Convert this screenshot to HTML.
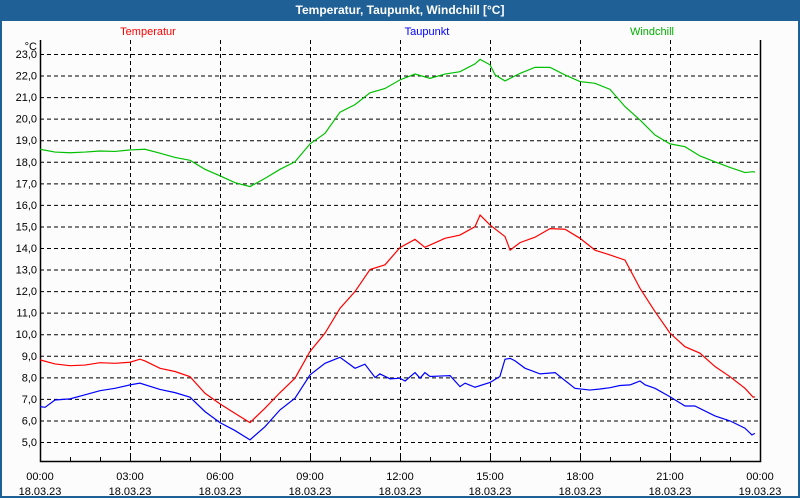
<!DOCTYPE html>
<html><head><meta charset="utf-8"><style>
body{margin:0;width:800px;height:500px;overflow:hidden;background:#fff;font-family:"Liberation Sans",sans-serif}
#frame{position:absolute;left:0;top:0;width:796px;height:496px;border:2px solid #1f6096;border-top:none;background:#fbfcfb}
#title{position:absolute;left:0;top:0;width:800px;height:21px;background:#1f6096;color:#fff;font-weight:bold;font-size:12px;line-height:21px;text-align:center}
svg{position:absolute;left:0;top:0}
</style></head><body>
<div id="frame"></div>
<div id="title">Temperatur, Taupunkt, Windchill [°C]</div>
<svg id="chart" width="800" height="500"></svg>
<script>
const yTicks=[5,6,7,8,9,10,11,12,13,14,15,16,17,18,19,20,21,22,23];
const xTickHours=[0,3,6,9,12,15,18,21,24];
const xTickTimes=["00:00","03:00","06:00","09:00","12:00","15:00","18:00","21:00","00:00"];
const xTickDates=["18.03.23","18.03.23","18.03.23","18.03.23","18.03.23","18.03.23","18.03.23","18.03.23","19.03.23"];
const tempTimes=[0,0.5,1,1.5,2,2.5,3,3.33,3.5,4,4.5,5,5.5,6,6.5,7,7.5,8,8.5,9,9.5,10,10.5,11,11.5,12,12.5,12.83,13.5,14,14.5,14.67,15,15.5,15.67,16,16.5,17,17.5,18,18.5,19,19.5,20,20.5,21,21.5,22,22.5,23,23.5,23.77,23.83];
const tempVals=[8.81,8.62,8.54,8.57,8.68,8.65,8.7,8.84,8.76,8.42,8.27,8.03,7.26,6.77,6.33,5.9,6.57,7.29,7.96,9.2,10.05,11.2,11.98,13.0,13.22,14.02,14.4,14.03,14.45,14.6,14.99,15.53,15.07,14.53,13.9,14.25,14.5,14.9,14.87,14.45,13.9,13.68,13.44,12.13,11.05,10.05,9.42,9.12,8.5,8.03,7.49,7.08,7.1];
const dewTimes=[0,0.17,0.5,1,1.5,2,2.5,3,3.33,4,4.5,5,5.5,6,6.5,7,7.5,8,8.5,9,9.5,10,10.5,10.83,11.17,11.33,11.67,12,12.17,12.5,12.67,12.83,13,13.5,13.67,14,14.17,14.5,15,15.33,15.5,15.67,15.83,16.17,16.33,16.67,17.17,17.33,17.83,18.33,18.67,19,19.33,19.67,20,20.17,20.5,21,21.5,21.83,22.5,23,23.5,23.73,23.83];
const dewVals=[6.64,6.61,6.95,7.0,7.19,7.38,7.49,7.65,7.73,7.44,7.29,7.08,6.41,5.9,5.53,5.1,5.71,6.49,7.03,8.11,8.65,8.93,8.42,8.61,7.99,8.16,7.93,7.96,7.83,8.22,7.96,8.22,8.04,8.07,8.08,7.57,7.73,7.54,7.76,8.04,8.84,8.88,8.77,8.42,8.34,8.16,8.22,8.04,7.49,7.41,7.46,7.52,7.62,7.65,7.83,7.65,7.49,7.1,6.67,6.67,6.21,5.98,5.64,5.33,5.4];
const windTimes=[0,0.5,1,1.5,2,2.5,3,3.5,4,4.5,5,5.5,6,6.5,7,7.5,8,8.5,9,9.5,10,10.5,11,11.5,12,12.5,13,13.5,14,14.5,14.67,15,15.17,15.5,15.67,16,16.5,17,17.5,18,18.5,19,19.5,20,20.5,21,21.5,22,22.5,23,23.5,23.77,23.83];
const windVals=[18.58,18.45,18.42,18.45,18.5,18.48,18.55,18.58,18.4,18.2,18.07,17.65,17.35,17.03,16.85,17.23,17.65,18.0,18.83,19.32,20.3,20.65,21.2,21.4,21.8,22.07,21.87,22.07,22.18,22.54,22.75,22.5,22.03,21.75,21.87,22.1,22.38,22.38,22.03,21.72,21.64,21.36,20.56,19.94,19.24,18.83,18.7,18.27,18.0,17.74,17.5,17.54,17.52];
const L=40,R=760,T=40,B=461;
const xs=h=>L+h*(R-L)/24;
const ys=v=>54+(23-v)*(442-54)/18;
const svg=document.getElementById('chart');
const NS='http://www.w3.org/2000/svg';
function mk(tag,attrs,parent){const e=document.createElementNS(NS,tag);for(const k in attrs)e.setAttribute(k,attrs[k]);(parent||svg).appendChild(e);return e;}
yTicks.forEach(v=>{
 const g=mk('line',{x1:L,x2:R,y1:ys(v)+0.5,y2:ys(v)+0.5,stroke:'#000','stroke-dasharray':'4,3','stroke-width':1});
 
 
 const t=mk('text',{x:37,y:ys(v)+4,'text-anchor':'end','font-size':11,fill:'#000'});
 t.textContent=v.toFixed(1).replace('.',',');
 
 
});
xTickHours.forEach((h,i)=>{
 if(h>0&&h<24){const g=mk('line',{x1:xs(h)+0.5,x2:xs(h)+0.5,y1:T,y2:B,stroke:'#000','stroke-dasharray':'4,3'});
 
 }
 const t1=mk('text',{x:xs(h),y:480,'text-anchor':'middle','font-size':11,fill:'#000'});
 t1.textContent=xTickTimes[i];
 
 
 const t2=mk('text',{x:xs(h),y:495,'text-anchor':'middle','font-size':11,fill:'#000'});
 t2.textContent=xTickDates[i];
 
 
});
for(let h=1;h<24;h++){const m=mk('line',{x1:xs(h)+0.5,x2:xs(h)+0.5,y1:B-4,y2:B,stroke:'#000'});
 
 }
const ax=mk('polyline',{points:`${L+0.5},${T} ${L+0.5},${B+0.5} ${R+0.5},${B+0.5} ${R+0.5},${T}`,fill:'none',stroke:'#000','stroke-width':1.5});


const unit=mk('text',{x:37,y:50,'text-anchor':'end','font-size':11});
unit.textContent='°C';


function series(times,vals,color,name){
 const p=mk('polyline',{points:times.map((t,i)=>xs(t)+','+ys(vals[i])).join(' '),fill:'none',stroke:color,'stroke-width':1.2});
 
 
}
series(windTimes,windVals,'#00c000','windchill-line');
series(tempTimes,tempVals,'#ff0000','temperature-line');
series(dewTimes,dewVals,'#0000ff','dewpoint-line');
[['Temperatur','#ff0000',148],['Taupunkt','#0000ff',427],['Windchill','#00b000',652]].forEach(([n,c,x])=>{
 const t=mk('text',{x:x,y:35,'text-anchor':'middle','font-size':11,fill:c});
 t.textContent=n;
 
 
});
</script>
</body></html>
